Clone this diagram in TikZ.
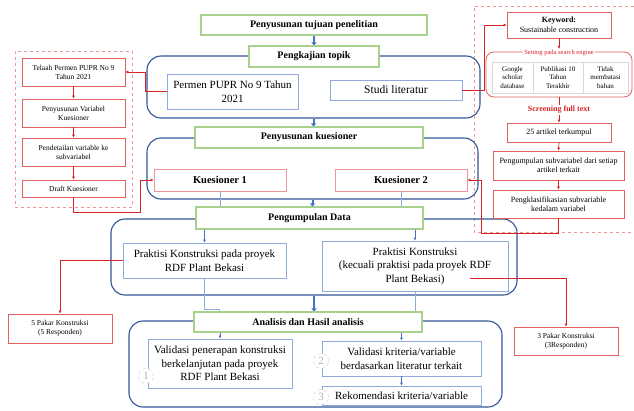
\documentclass[tikz,border=0pt]{standalone}
\usepackage{fontspec}
\setmainfont{Liberation Serif}
\usetikzlibrary{arrows.meta}
\definecolor{hijau}{RGB}{169,209,142}
\definecolor{birutua}{RGB}{47,85,151}
\definecolor{birumuda}{RGB}{143,170,220}
\definecolor{birupanah}{RGB}{68,114,196}
\definecolor{merah}{RGB}{215,35,35}
\definecolor{merahbox}{RGB}{225,95,95}
\definecolor{merahmuda}{RGB}{240,150,150}
\begin{document}
\begin{tikzpicture}[x=1pt,y=-1pt,
	judul/.style={draw=hijau,line width=1.1pt,fill=white,inner sep=0pt,font=\fontsize{10}{12}\selectfont\bfseries},
	wadah/.style={draw=birutua,line width=1.1pt,rounded corners=14pt,inner sep=0pt},
	isi/.style={draw=birumuda,line width=0.8pt,fill=white,align=center,inner sep=0pt},
	kotakmerah/.style={draw=merahbox,line width=0.8pt,fill=white,align=center,inner sep=0pt,font=\fontsize{7.5}{9}\selectfont},
	sel/.style={draw=gray!30,fill=white,align=center,inner sep=0pt,font=\fontsize{7}{8.5}\selectfont},
	panel/.style={draw=merahmuda,dashed,line width=0.7pt},
	panah/.style={draw=birupanah,line width=2pt,-{Triangle[length=3pt,width=5pt]}},
	garis/.style={draw=birumuda,line width=0.7pt},
	panahbiru/.style={garis,-{Latex[length=3pt,width=3pt]},draw=birupanah},
	garismerah/.style={draw=merah,line width=0.7pt},
	panahmerah/.style={garismerah,-{Latex[length=3pt,width=3pt]}},
	nomor/.style={circle,draw=gray!45,fill=white,dashed,text=gray!60,minimum size=15pt,inner sep=0pt,font=\fontsize{11}{11}\selectfont}
	]
	\useasboundingbox (0,0) rectangle (634,410);
	% panel merah kiri dan kanan
	\node[panel,minimum width=117pt,minimum height=156pt] (kiri) at (73.5,129) {};
	\draw[panel] (634,6) -- (474,6) -- (474,232) -- (634,232);
	% wadah biru
	\node[wadah,minimum width=333pt,minimum height=62pt] (w1) at (313.5,87) {};
	\node[wadah,minimum width=331pt,minimum height=61pt] (w2) at (312.5,168.5) {};
	\node[wadah,minimum width=406pt,minimum height=76pt] (w3) at (314,257) {};
	\node[wadah,minimum width=373pt,minimum height=86pt] (w4) at (315.5,364) {};
	% tahapan utama
	\node[judul,minimum width=226pt,minimum height=20pt] (tujuan) at (314,25) {Penyusunan tujuan penelitian};
	\node[judul,minimum width=130pt,minimum height=21pt] (topik) at (314,56.5) {Pengkajian topik};
	\node[judul,minimum width=228pt,minimum height=21pt] (kues) at (309,137.5) {Penyusunan kuesioner};
	\node[judul,minimum width=227pt,minimum height=22pt] (data) at (309.5,218) {Pengumpulan Data};
	\node[judul,minimum width=228pt,minimum height=20pt] (analisis) at (308,322) {Analisis dan Hasil analisis};
	% isi wadah
	\node[isi,minimum width=131pt,minimum height=35pt,font=\fontsize{11}{14}\selectfont] (permen) at (232.5,91.5) {Permen PUPR No 9 Tahun\\ 2021};
	\node[isi,minimum width=132pt,minimum height=20pt,font=\fontsize{11.5}{14}\selectfont] (studi) at (396,90) {Studi literatur};
	\node[kotakmerah,draw=merahmuda,minimum width=132pt,minimum height=22pt,font=\fontsize{10.5}{12}\selectfont\bfseries] (k1) at (220,180) {Kuesioner 1};
	\node[kotakmerah,draw=merahmuda,minimum width=132pt,minimum height=22pt,font=\fontsize{10.5}{12}\selectfont\bfseries] (k2) at (401,180) {Kuesioner 2};
	\node[isi,minimum width=163pt,minimum height=35pt,font=\fontsize{11}{13.5}\selectfont] (prak1) at (204.5,260.5) {Praktisi Konstruksi pada proyek\\ RDF Plant Bekasi};
	\node[isi,minimum width=186pt,minimum height=50pt,font=\fontsize{11}{13.5}\selectfont] (prak2) at (415,266) {Praktisi Konstruksi\\ (kecuali praktisi pada proyek RDF\\ Plant Bekasi)};
	\node[isi,minimum width=144pt,minimum height=49pt,font=\fontsize{11}{13.5}\selectfont] (val1) at (220,363.5) {Validasi penerapan konstruksi\\ berkelanjutan pada proyek\\ RDF Plant Bekasi};
	\node[isi,minimum width=159pt,minimum height=35pt,font=\fontsize{11}{13.5}\selectfont] (val2) at (401.5,358.5) {Validasi kriteria/variable\\ berdasarkan literatur terkait};
	\node[isi,minimum width=159pt,minimum height=19pt,font=\fontsize{11}{13.5}\selectfont] (rek) at (401.5,395.5) {Rekomendasi kriteria/variable};
	\node[nomor] (n1) at (146,376) {1};
	\node[nomor] (n2) at (321,361) {2};
	\node[nomor] (n3) at (321,397) {3};
	% kotak kiri
	\node[kotakmerah,minimum width=103pt,minimum height=28pt] (telaah) at (73.5,72) {Telaah Permen PUPR No 9\\ Tahun 2021};
	\node[kotakmerah,minimum width=103pt,minimum height=28pt] (variabel) at (73.5,113) {Penyusunan Variabel\\ Kuesioner};
	\node[kotakmerah,minimum width=103pt,minimum height=28pt] (detail) at (73.5,152) {Pendetailan variable ke\\ subvariabel};
	\node[kotakmerah,minimum width=103pt,minimum height=17pt] (draft) at (73.5,188.5) {Draft Kuesioner};
	% kotak kanan
	\node[kotakmerah,minimum width=104pt,minimum height=26pt,font=\fontsize{8}{9.5}\selectfont] (keyword) at (559,25) {\textbf{Keyword:}\\ Sustainable construction};
	\node[kotakmerah,rounded corners=8pt,minimum width=146pt,minimum height=45pt] (setting) at (559,74.5) {};
	\node[fill=white,inner sep=1pt,text=merah,font=\fontsize{6.5}{7}\selectfont] (setlbl) at (559,53) {Setting pada search engine};
	\node[sel,minimum width=41pt,minimum height=31pt] (google) at (512.5,77.5) {Google\\ scholar\\ database};
	\node[sel,minimum width=50pt,minimum height=31pt] (publikasi) at (558,77.5) {Publikasi 10\\ Tahun\\ Terakhir};
	\node[sel,minimum width=45pt,minimum height=31pt] (bahan) at (605.5,77.5) {Tidak\\ membatasi\\ bahan};
	\node[text=merah,inner sep=1pt,font=\fontsize{8}{9}\selectfont\bfseries] (screen) at (559,110) {Screening full text};
	\node[kotakmerah,minimum width=104pt,minimum height=19pt,font=\fontsize{8}{9.5}\selectfont] (artikel) at (559,132.5) {25 artikel terkumpul};
	\node[kotakmerah,minimum width=131pt,minimum height=29pt,font=\fontsize{8}{9.5}\selectfont] (kumpul) at (558.5,165.5) {Pengumpulan subvariabel dari setiap\\ artikel terkait};
	\node[kotakmerah,minimum width=131pt,minimum height=28pt,font=\fontsize{8}{9.5}\selectfont] (klasifikasi) at (558.5,204) {Pengklasifikasian subvariable\\ kedalam variabel};
	% pakar
	\node[kotakmerah,minimum width=104pt,minimum height=29pt] (pakar5) at (60,328.5) {5 Pakar Konstruksi\\ (5 Responden)};
	\node[kotakmerah,minimum width=104pt,minimum height=28pt] (pakar3) at (566,341) {3 Pakar Konstruksi\\ (3Responden)};
	% panah biru
	\draw[panah] (tujuan.south) -- (topik.north);
	\draw[panah] (w1.south) -- (w1.south |- kues.north);
	\draw[panah] (w2.south) -- (w2.south |- data.north);
	\draw[panah] (w3.south) -- (w3.south |- analisis.north);
	\draw[garis] (k1.south) -- (k1.south |- data.north);
	\draw[garis] (k2.south) -- (k2.south |- data.north);
	\draw[panahbiru] (data.south -| prak1.north) -- (prak1.north);
	\draw[panahbiru] (data.south -| prak2.north) -- (prak2.north);
	\draw[garis] (prak1.south) -- ++(0,31) -| ([xshift=26pt]analisis.north west);
	\draw[garis] (prak2.south) -- (prak2.south |- analisis.north);
	\draw[panahbiru] (analisis.south -| val1.north) -- (val1.north);
	\draw[panahbiru] (analisis.south -| val2.north) -- (val2.north);
	\draw[panahbiru] (val2.south) -- (rek.north);
	% panah merah
	\draw[panahmerah] (permen.west) -- ++(-21,0) |- (telaah.east);
	\draw[panahmerah] (telaah.south) -- (variabel.north);
	\draw[panahmerah] (variabel.south) -- (detail.north);
	\draw[panahmerah] (detail.south) -- (draft.north);
	\draw[panahmerah] (draft.south) -- ++(0,15) -- ++(66.5,0) |- (k1.west);
	\draw[panahmerah] (studi.east) -- ++(22,0) |- (keyword.west);
	\draw[panahmerah] (keyword.south) -- (setlbl.north);
	\draw[garismerah] (setting.south) -- (screen.north);
	\draw[panahmerah] (screen.south) -- (artikel.north);
	\draw[panahmerah] (artikel.south) -- (kumpul.north);
	\draw[panahmerah] (kumpul.south) -- (klasifikasi.north);
	\draw[panahmerah] (klasifikasi.south) -- ++(0,15) -- ++(-77.5,0) |- (k2.east);
	\draw[panahmerah] (prak1.west) -| (pakar5.north);
	\draw[panahmerah] ([xshift=-38pt,yshift=13pt]prak2.south east) -| (pakar3.north);
\end{tikzpicture}
\end{document}
